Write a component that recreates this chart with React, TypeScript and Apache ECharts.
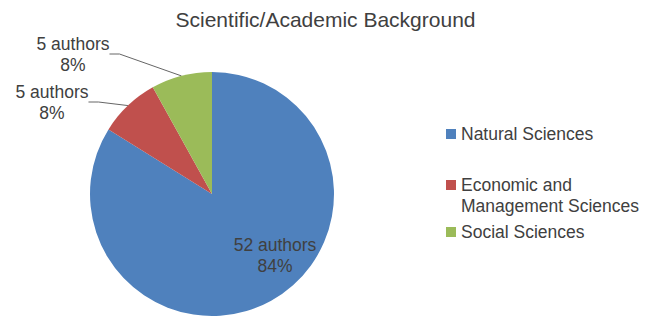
import React, { useEffect, useRef } from "react";
import * as echarts from "echarts";

const categories = [
  "Natural Sciences",
  "Economic and Management Sciences",
  "Social Sciences",
];
const authorCounts = [52, 5, 5];
const sliceColors = ["#4F81BD", "#C0504D", "#9BBB59"];
const chartTitle = "Scientific/Academic Background";

const FONT = "'Liberation Sans', Arial, sans-serif";
const TEXT = "#404040";

export default function App() {
  const ref = useRef<HTMLDivElement>(null);
  useEffect(() => {
    if (!ref.current) return;
    const chart = echarts.init(ref.current, undefined, { renderer: "svg" });
    const labelSpots = [
      { x: 275, y: 255 },
      { x: 52, y: 102 },
      { x: 73, y: 54 },
    ];
    const legendTops = [123.5, 153.5, 221.5];
    chart.setOption({
      animation: false,
      color: sliceColors,
      title: {
        text: chartTitle,
        left: "center",
        top: 9,
        padding: 0,
        textStyle: { fontFamily: FONT, fontSize: 21, fontWeight: "normal", color: TEXT },
      },
      legend: categories.map((name, i) => ({
        orient: "vertical",
        left: 446,
        top: legendTops[i],
        padding: 0,
        itemWidth: 10,
        itemHeight: 10,
        icon: "rect",
        data: [name],
        formatter: (n: string) =>
          n === "Economic and Management Sciences" ? "\nEconomic and\nManagement Sciences" : n,
        textStyle: {
          fontFamily: FONT,
          fontSize: 17.5,
          color: TEXT,
          lineHeight: 21,
        },
      })),
      series: [
        {
          type: "pie",
          center: [212, 194],
          radius: 122,
          startAngle: 90,
          clockwise: true,
          percentPrecision: 0,
          data: categories.map((name, i) => ({
            name,
            value: authorCounts[i],
            label: i === 0 ? { position: "inside" } : { position: "outside" },
            labelLine: { show: i !== 0 },
          })),
          label: {
            formatter: "{c} authors\n{d}%",
            fontFamily: FONT,
            fontSize: 17.5,
            lineHeight: 21,
            color: TEXT,
            align: "center",
          },
          labelLine: {
            lineStyle: { color: "#666", width: 1 },
            length: 15,
            length2: 10,
          },
          labelLayout: (p: any) => ({
            x: labelSpots[p.dataIndex].x,
            y: labelSpots[p.dataIndex].y,
            align: "center",
            verticalAlign: "middle",
          }),
          emphasis: { disabled: true },
        },
      ],
    });
    return () => chart.dispose();
  }, []);
  return (
    <div
      ref={ref}
      style={{ position: "absolute", left: 0, top: 0, width: 651, height: 318 }}
    />
  );
}
